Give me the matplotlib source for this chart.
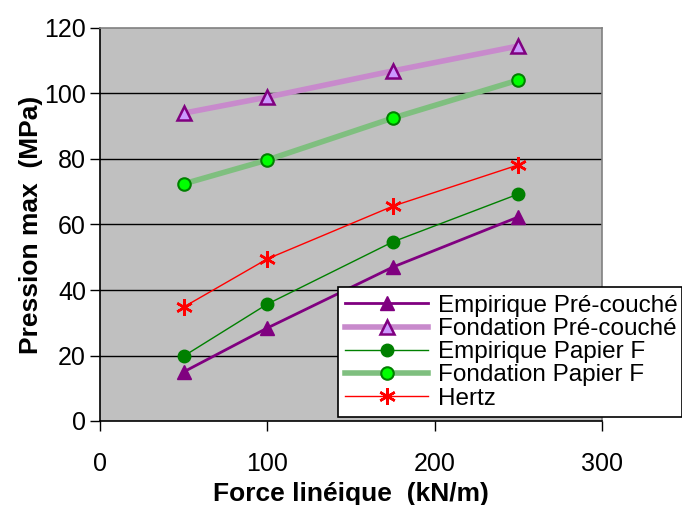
import matplotlib
matplotlib.use('Agg')
import matplotlib.pyplot as plt

plt.rcParams['font.family'] = ['Liberation Sans', 'DejaVu Sans']

# data
force = [50, 100, 175, 250]
emp_pre = [15.0, 28.4, 47.0, 62.3]
fond_pre = [94.0, 98.9, 106.9, 114.5]
emp_papier = [19.8, 35.7, 54.7, 69.3]
fond_papier = [72.4, 79.7, 92.5, 104.1]
hertz = [34.8, 49.5, 65.6, 78.2]

labels = ['Empirique Pré-couché', 'Fondation Pré-couché', 'Empirique Papier F',
          'Fondation Papier F', 'Hertz']
x_ticks = [0, 100, 200, 300]
y_ticks = [0, 20, 40, 60, 80, 100, 120]

fig = plt.figure(figsize=(6.82, 5.05), dpi=100)
ax = fig.add_axes([100 / 682, 84 / 505, 502 / 682, 393 / 505])
ax.set_facecolor('#C0C0C0')

for yv in y_ticks[1:-1]:
    ax.axhline(yv, color='black', lw=1, zorder=1)

ax.plot(force, emp_pre, color='#800080', lw=2, marker='^', ms=10,
        mfc='#800080', mec='#800080', label=labels[0], zorder=3)
ax.plot(force, fond_pre, color='#C88ACC', lw=4, marker='^', ms=10,
        mfc='#CC99FF', mec='#800080', mew=1.8, label=labels[1], zorder=3)
ax.plot(force, emp_papier, color='#008000', lw=1, marker='o', ms=9,
        mfc='#008000', mec='#008000', label=labels[2], zorder=3)
ax.plot(force, fond_papier, color='#7FBF7F', lw=4, marker='o', ms=9,
        mfc='#00FF00', mec='#008000', mew=1.5, label=labels[3], zorder=3)
ax.plot(force, hertz, color='#FF0000', lw=1, marker=(6, 2, 0), ms=12,
        mec='#FF0000', mew=1.8, label=labels[4], zorder=3)

ax.set_xlim(0, 300)
ax.set_ylim(0, 120)
ax.set_xticks(x_ticks)
ax.set_yticks(y_ticks)
ax.tick_params(axis='both', labelsize=18, direction='out', length=7, width=1,
               colors='black')
ax.tick_params(axis='x', pad=15)
ax.tick_params(axis='y', pad=3)

ax.spines['left'].set_color('black')
ax.spines['bottom'].set_color('black')
ax.spines['top'].set_color('#808080')
ax.spines['right'].set_color('#808080')
for s in ax.spines.values():
    s.set_linewidth(1.2)

ax.set_xlabel('Force linéique  (kN/m)', fontsize=19, fontweight='bold', labelpad=5)
ax.set_ylabel('Pression max  (MPa)', fontsize=19, fontweight='bold', labelpad=1)

leg = ax.legend(loc='lower left', bbox_to_anchor=(338 / 682, 88 / 505, 344 / 682, 138 / 505),
                bbox_transform=fig.transFigure, mode='expand', fontsize=17.5,
                fancybox=False, framealpha=1, edgecolor='black', borderpad=0.3,
                labelspacing=0.05, handlelength=3.4, handletextpad=0.4,
                borderaxespad=0)
leg.get_frame().set_linewidth(1.2)
leg.set_zorder(5)

fig.savefig('out.png', dpi=100)
